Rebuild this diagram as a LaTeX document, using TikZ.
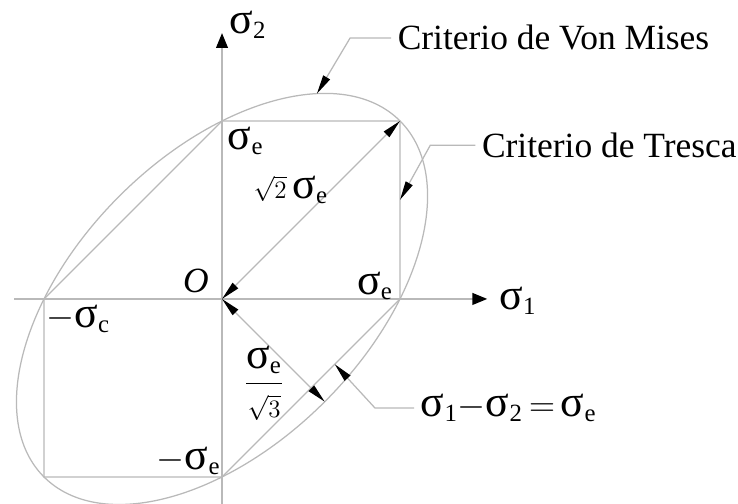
\documentclass[tikz,border=0pt]{standalone}
\usepackage{amsmath}
\usepackage{fontspec}
\setmainfont{Liberation Serif}
\usetikzlibrary{arrows.meta}
\tikzset{gline/.style = {draw=gray!55, line width=0.6pt}}
\tikzset{axis/.style = {gline, -{Triangle[length=0.25cm, width=0.2cm, color=black]}}}
\tikzset{lead/.style = {gline, -{Triangle[length=0.32cm, width=0.13cm, color=black]}}}
\tikzset{dim/.style = {gline, {Triangle[length=0.32cm, width=0.13cm, color=black]}-{Triangle[length=0.32cm, width=0.13cm, color=black]}}}
\tikzset{every picture/.style={
    every node/.style={font=\fontsize{17}{20}\selectfont, inner sep=0pt},
}}
\newcommand{\sgm}[1]{{\fontsize{21}{24}\selectfont σ}\textsubscript{#1}}

\begin{document}
\begin{tikzpicture}
      \useasboundingbox (-3.742,-3.455) rectangle (8.697,5.039);
      % axes
      \coordinate (O) at (0,0);
      \coordinate (xl) at (-3.5,0);
      \coordinate (xr) at (4.47,0);
      \coordinate (yb) at (0,-3.6);
      \coordinate (yt) at (0,4.48);
      \draw[axis] (xl) -- (xr);
      \draw[axis] (yb) -- (yt);
      % Tresca hexagon
      \coordinate (A) at (3,0);
      \coordinate (B) at (3,3);
      \coordinate (C) at (0,3);
      \coordinate (D) at (-3,0);
      \coordinate (E) at (-3,-3);
      \coordinate (F) at (0,-3);
      \draw[gline] (A) -- (B) -- (C) -- (D) -- (E) -- (F) -- cycle;
      % Von Mises ellipse
      \draw[gline] (O) ellipse [x radius=4.243, y radius=2.449, rotate=45];
      % dimensions
      \coordinate (P) at (1.732,-1.732);
      \draw[dim] (B) -- (O);
      \draw[dim] (O) -- (P);
      % labels
      \node (s2) at (0.44,4.62) {\sgm{2}};
      \node (s1) at (4.99,-0.03) {\sgm{1}};
      \node (o) at (-0.44,0.30) {\textit{O}};
      \node (se1) at (0.40,2.66) {\sgm{e}};
      \node (se2) at (2.58,0.22) {\sgm{e}};
      \node (mse1) at (-2.42,-0.34) {$-$\sgm{c}};
      \node (mse2) at (-0.56,-2.73) {$-$\sgm{e}};
      \node (r2) at (1.16,1.84) {{\fontsize{13}{15}\selectfont$\sqrt{2}$}\,\sgm{e}};
      \node (fr) at (0.71,-1.42) {$\dfrac{\text{\sgm{e}}}{\text{\fontsize{13}{15}\selectfont$\sqrt{3}$}}$};
      % leaders
      \node (vm) at (2.85,4.40) [anchor=west, inner sep=3pt] {Criterio de Von Mises};
      \coordinate (vm1) at (2.16,4.40);
      \coordinate (vm2) at (1.6,3.46);
      \draw[lead] (vm) -- (vm1) -- (vm2);
      \node (tr) at (4.27,2.59) [anchor=west, inner sep=3pt] {Criterio de Tresca};
      \coordinate (tr1) at (3.51,2.59);
      \coordinate (tr2) at (3.0,1.67);
      \draw[lead] (tr) -- (tr1) -- (tr2);
      \node (eq) at (3.24,-1.84) [anchor=west, inner sep=3pt] {\sgm{1}$-$\sgm{2}$\,=\,$\sgm{e}};
      \coordinate (eq1) at (2.58,-1.84);
      \coordinate (eq2) at (1.9,-1.1);
      \draw[lead] (eq) -- (eq1) -- (eq2);
    \end{tikzpicture}
\end{document}
